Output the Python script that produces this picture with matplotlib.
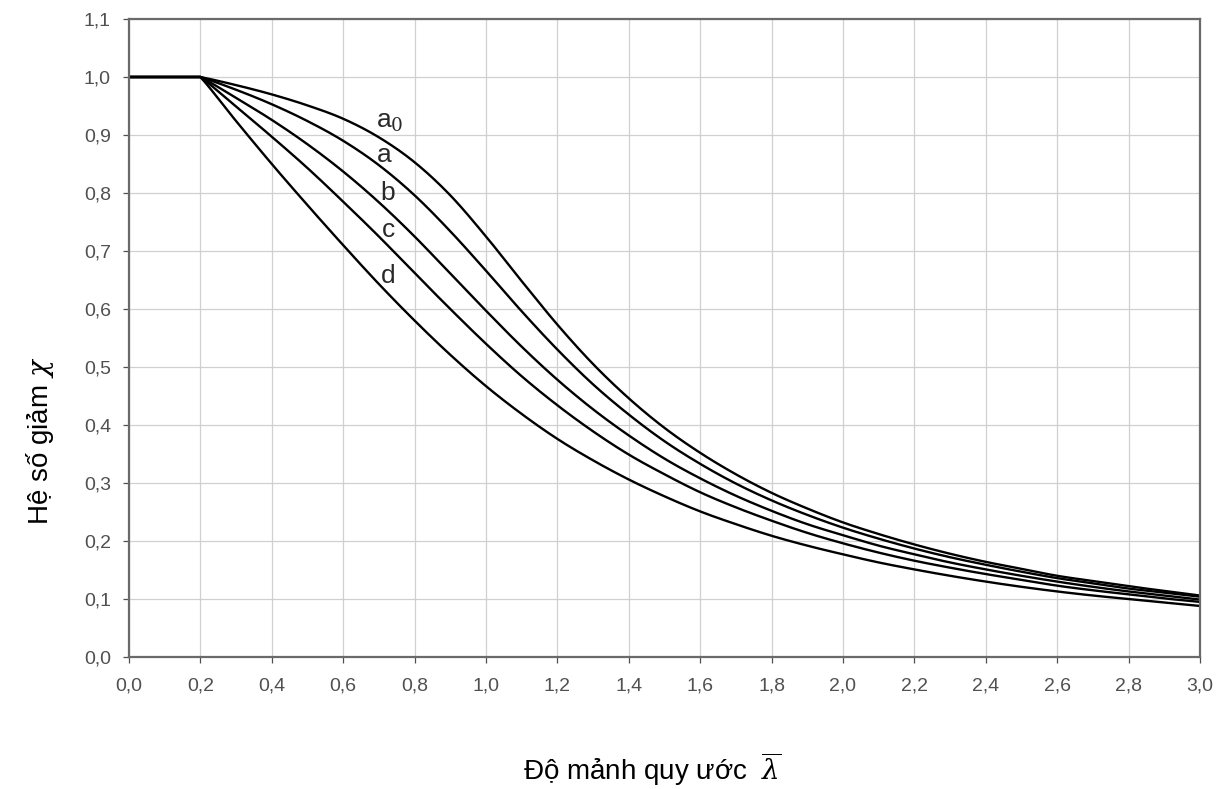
import numpy as np
import matplotlib
matplotlib.use("Agg")
import matplotlib.pyplot as plt

plt.rcParams['font.family'] = ['Liberation Sans', 'DejaVu Sans']
plt.rcParams['mathtext.fontset'] = 'dejavuserif'

lam = [0.0, 0.1, 0.2, 0.3, 0.4, 0.5, 0.6, 0.7, 0.8, 0.9, 1.0, 1.1, 1.2, 1.3, 1.4, 1.5,
       1.6, 1.7, 1.8, 1.9, 2.0, 2.1, 2.2, 2.3, 2.4, 2.5, 2.6, 2.7, 2.8, 2.9, 3.0]
chi_a0 = [1.0, 1.0, 1.0, 0.986, 0.970, 0.951, 0.928, 0.896, 0.853, 0.796, 0.725, 0.648,
          0.573, 0.505, 0.446, 0.395, 0.352, 0.315, 0.283, 0.256, 0.232, 0.212, 0.194,
          0.178, 0.164, 0.152, 0.140, 0.131, 0.122, 0.114, 0.106]
chi_a = [1.0, 1.0, 1.0, 0.978, 0.953, 0.924, 0.890, 0.848, 0.796, 0.734, 0.666, 0.596,
         0.530, 0.470, 0.418, 0.372, 0.333, 0.299, 0.270, 0.245, 0.223, 0.204, 0.187,
         0.172, 0.159, 0.147, 0.136, 0.127, 0.118, 0.111, 0.104]
chi_b = [1.0, 1.0, 1.0, 0.964, 0.926, 0.884, 0.837, 0.784, 0.725, 0.661, 0.597, 0.535,
         0.478, 0.427, 0.382, 0.342, 0.308, 0.278, 0.252, 0.229, 0.210, 0.192, 0.177,
         0.163, 0.151, 0.140, 0.130, 0.121, 0.113, 0.106, 0.099]
chi_c = [1.0, 1.0, 1.0, 0.949, 0.897, 0.843, 0.785, 0.725, 0.662, 0.600, 0.540, 0.484,
         0.434, 0.389, 0.349, 0.315, 0.284, 0.258, 0.235, 0.214, 0.196, 0.180, 0.166,
         0.154, 0.143, 0.133, 0.123, 0.115, 0.108, 0.101, 0.095]
chi_d = [1.0, 1.0, 1.0, 0.924, 0.850, 0.779, 0.710, 0.643, 0.580, 0.521, 0.467, 0.419,
         0.376, 0.339, 0.306, 0.277, 0.251, 0.229, 0.209, 0.192, 0.177, 0.163, 0.151,
         0.140, 0.130, 0.121, 0.113, 0.106, 0.100, 0.094, 0.088]

curve_names = ['a$_0$', 'a', 'b', 'c', 'd']
label_x = [0.693, 0.693, 0.705, 0.707, 0.705]
label_y = [0.912, 0.853, 0.788, 0.724, 0.645]

xticks = [round(0.2 * i, 1) for i in range(16)]
yticks = [round(0.1 * i, 1) for i in range(12)]

def fmt(v):
    return f"{v:.1f}".replace('.', ',')

fig = plt.figure(figsize=(12.24, 7.89), dpi=100)
ax = fig.add_axes([129/1224, 1 - 657/789, (1200-129)/1224, (657-19)/789])

for ys in [chi_a0, chi_a, chi_b, chi_c, chi_d]:
    xs = np.array(lam); yv = np.array(ys)
    # smooth piecewise cubic Hermite drawing through the read points
    m = np.gradient(yv, xs)
    m[:3] = 0.0
    m[2] = (yv[3] - yv[2]) / (xs[3] - xs[2]) * 0.9
    fx, fy = [], []
    for i in range(len(xs) - 1):
        h = xs[i+1] - xs[i]
        t = np.linspace(0, 1, 20, endpoint=False)
        h00 = 2*t**3 - 3*t**2 + 1; h10 = t**3 - 2*t**2 + t
        h01 = -2*t**3 + 3*t**2; h11 = t**3 - t**2
        fx.extend(xs[i] + t*h)
        if i < 2:
            fy.extend([1.0]*len(t))
        else:
            fy.extend(h00*yv[i] + h10*h*m[i] + h01*yv[i+1] + h11*h*m[i+1])
    fx.append(xs[-1]); fy.append(yv[-1])
    ax.plot(fx, fy, color='black', lw=1.7, solid_capstyle='butt')

for nm, lx, ly in zip(curve_names, label_x, label_y):
    ax.text(lx, ly, nm, fontsize=19, ha='left', va='baseline', color='#2a2a2a')

ax.set_xlim(0, 3.0)
ax.set_ylim(0, 1.1)
ax.set_xticks(xticks)
ax.set_yticks(yticks)
ax.set_xticklabels([fmt(v) for v in xticks])
ax.set_yticklabels([fmt(v) for v in yticks])
ax.grid(True, color='#d0d0d0', lw=0.9)
ax.set_axisbelow(True)
for s in ax.spines.values():
    s.set_color('#6a6a6a')
    s.set_linewidth(1.6)
ax.tick_params(axis='both', colors='#505050', labelsize=14, length=4, width=0.9)
ax.tick_params(axis='x', pad=11)
ax.tick_params(axis='y', pad=9)

fig.text(652/1224, 1 - 769/789, 'Độ mảnh quy ước  $\\overline{\\lambda}$', fontsize=20,
         ha='center', va='center', color='black')
fig.text(40/1224, 1 - 441/789, 'Hệ số giảm $\\chi$', fontsize=20, rotation=90,
         ha='center', va='center', color='black')

fig.savefig('out.png', dpi=100)
